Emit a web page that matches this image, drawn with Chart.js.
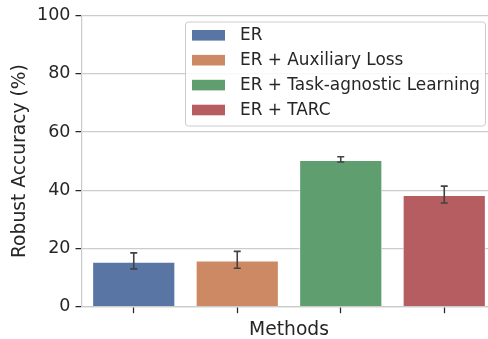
<!DOCTYPE html>
<html>
<head>
<meta charset="utf-8">
<script src="https://cdn.jsdelivr.net/npm/chart.js@4/dist/chart.umd.min.js"></script>
<style>
  html, body { margin: 0; padding: 0; background: #ffffff; overflow: hidden; }
  #wrap { width: 500px; height: 339px; }
</style>
</head>
<body>
<div id="wrap"><canvas id="chart" width="500" height="339"></canvas></div>
<script>
// Methods compared and their robust accuracy (%), with confidence interval bounds
const methods = ['ER', 'ER + Auxiliary Loss', 'ER + Task-agnostic Learning', 'ER + TARC'];
const accuracy = [15.4, 15.8, 50.3, 38.3];
const ciLower = [13.0, 13.2, 49.7, 35.6];
const ciUpper = [18.5, 19.0, 51.5, 41.4];
const yTicks = [0, 20, 40, 60, 80, 100];
const barColors = ['#5975a4', '#cc8963', '#5f9e6e', '#b55d60'];

const TEXT = '#262626';
const LIGHT = '#cccccc';
const FONT = 'DejaVu Sans';

// Error bars with caps drawn on top of the bars
const errorBars = {
  id: 'errorBars',
  afterDatasetsDraw(chart) {
    const { ctx, scales: { x, y } } = chart;
    ctx.save();
    ctx.strokeStyle = '#424242';
    ctx.lineWidth = 1.6;
    methods.forEach((m, i) => {
      const cx = x.getPixelForValue(i);
      const yLo = y.getPixelForValue(ciLower[i]);
      const yHi = y.getPixelForValue(ciUpper[i]);
      ctx.beginPath();
      ctx.moveTo(cx, yLo); ctx.lineTo(cx, yHi);
      ctx.moveTo(cx - 3.5, yLo); ctx.lineTo(cx + 3.5, yLo);
      ctx.moveTo(cx - 3.5, yHi); ctx.lineTo(cx + 3.5, yHi);
      ctx.stroke();
    });
    ctx.restore();
  }
};

// Framed legend in the upper right of the plot area
const boxLegend = {
  id: 'boxLegend',
  afterDraw(chart) {
    const { ctx } = chart;
    const x0 = 185, y0 = 21.5, w = 300, h = 104, r = 3;
    ctx.save();
    ctx.beginPath();
    ctx.roundRect(x0 + 0.5, y0 + 0.5, w, h, r);
    ctx.fillStyle = 'rgba(255,255,255,0.85)';
    ctx.fill();
    ctx.strokeStyle = LIGHT;
    ctx.lineWidth = 1;
    ctx.stroke();
    ctx.font = '16.9px "' + FONT + '"';
    ctx.textBaseline = 'middle';
    ctx.textAlign = 'left';
    methods.forEach((m, i) => {
      const cy = 35.3 + i * 24.9;
      ctx.fillStyle = barColors[i];
      ctx.fillRect(192, cy - 5.3, 33, 10.6);
      ctx.fillStyle = TEXT;
      ctx.fillText(m, 240, cy + 0.5);
    });
    ctx.restore();
  }
};

new Chart(document.getElementById('chart'), {
  type: 'bar',
  data: {
    labels: methods,
    datasets: [{
      data: accuracy,
      backgroundColor: barColors,
      borderColor: '#ffffff',
      borderWidth: 0.8,
      barPercentage: 0.8,
      categoryPercentage: 1.0
    }]
  },
  options: {
    responsive: false,
    animation: false,
    devicePixelRatio: 1,
    layout: { padding: { top: 13.3, right: 4, bottom: 0, left: 0 } },
    plugins: {
      legend: { display: false },
      tooltip: { enabled: false }
    },
    scales: {
      x: {
        offset: true,
        grid: {
          offset: false,
          drawOnChartArea: false,
          drawTicks: true,
          tickLength: 6.5,
          tickColor: TEXT,
          tickWidth: 1.25
        },
        border: { color: LIGHT, width: 1.25 },
        ticks: { display: false },
        title: {
          display: true,
          text: 'Methods',
          color: TEXT,
          font: { family: FONT, size: 18.7, lineHeight: 1 },
          padding: { top: 0, bottom: 0 }
        },
        afterFit(scale) { scale.height = 32.3; }
      },
      y: {
        min: 0,
        max: 100,
        afterBuildTicks(scale) { scale.ticks = yTicks.map(v => ({ value: v })); },
        grid: {
          color: LIGHT,
          lineWidth: 1.25,
          drawTicks: true,
          tickLength: 6.5,
          tickColor: TEXT,
          tickWidth: 1.25
        },
        border: { color: LIGHT, width: 1.25 },
        ticks: {
          color: TEXT,
          padding: 5,
          font: { family: FONT, size: 17.5 }
        },
        title: {
          display: true,
          text: 'Robust Accuracy (%)',
          color: TEXT,
          font: { family: FONT, size: 18.7, lineHeight: 1 },
          padding: { top: 11.2, bottom: 0 }
        },
        afterFit(scale) { scale.width = 82; }
      }
    }
  },
  plugins: [errorBars, boxLegend]
});
</script>
</body>
</html>
